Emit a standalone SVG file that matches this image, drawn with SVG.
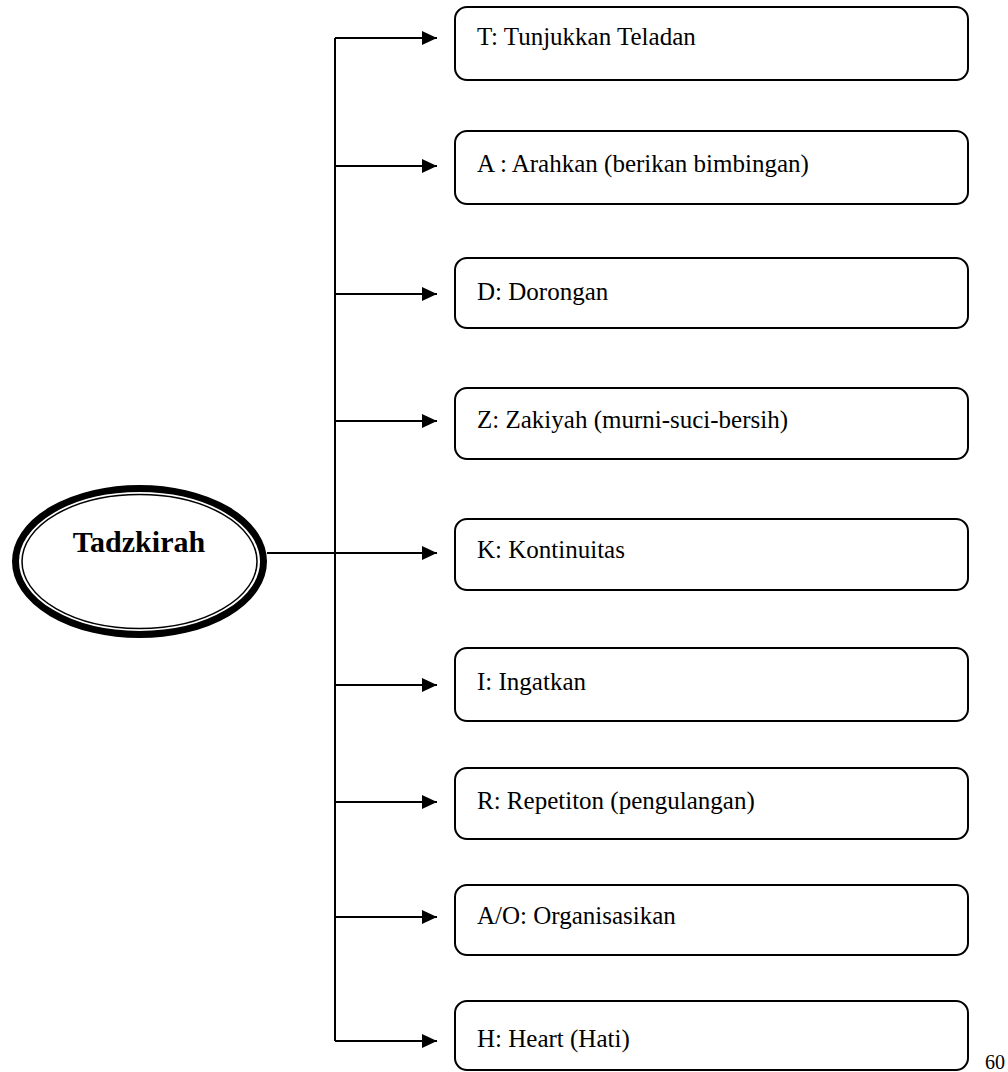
<svg xmlns="http://www.w3.org/2000/svg" width="1008" height="1072" viewBox="0 0 1008 1072">
<defs>
<marker id="ah" markerWidth="16" markerHeight="14" refX="15" refY="7" orient="auto" markerUnits="userSpaceOnUse">
<path d="M0,0 L15,7 L0,14 Z" fill="#000"/>
</marker>
<style>
.box{fill:#fff;stroke:#000;stroke-width:2}
.lbl{font-family:"Liberation Serif","Times New Roman",serif;font-size:25px;fill:#000}
.con{fill:none;stroke:#000;stroke-width:2}
</style>
</defs>
<rect width="1008" height="1072" fill="#fff"/>
<g id="connectors">
<path class="con" d="M335,38 V1041"/>
<path class="con" d="M267,553 H437" marker-end="url(#ah)"/>
<path class="con" d="M335,38 H437" marker-end="url(#ah)"/>
<path class="con" d="M335,166 H437" marker-end="url(#ah)"/>
<path class="con" d="M335,294 H437" marker-end="url(#ah)"/>
<path class="con" d="M335,421 H437" marker-end="url(#ah)"/>
<path class="con" d="M335,685 H437" marker-end="url(#ah)"/>
<path class="con" d="M335,802 H437" marker-end="url(#ah)"/>
<path class="con" d="M335,917 H437" marker-end="url(#ah)"/>
<path class="con" d="M335,1041 H437" marker-end="url(#ah)"/>
</g>
<g id="root">
<ellipse cx="139.5" cy="561.5" rx="124" ry="73" fill="#fff" stroke="#000" stroke-width="7"/>
<ellipse cx="139.5" cy="561.5" rx="117.5" ry="67" fill="none" stroke="#000" stroke-width="1.5"/>
<text x="139" y="552" text-anchor="middle" font-family="Liberation Serif,'Times New Roman',serif" font-weight="bold" font-size="30">Tadzkirah</text>
</g>
<g id="n1"><rect class="box" x="455" y="7" width="513" height="73" rx="12"/><text class="lbl" x="477" y="45">T: Tunjukkan Teladan</text></g>
<g id="n2"><rect class="box" x="455" y="131" width="513" height="73" rx="12"/><text class="lbl" x="477" y="172">A : Arahkan (berikan bimbingan)</text></g>
<g id="n3"><rect class="box" x="455" y="258" width="513" height="70" rx="12"/><text class="lbl" x="477" y="300">D: Dorongan</text></g>
<g id="n4"><rect class="box" x="455" y="388" width="513" height="71" rx="12"/><text class="lbl" x="477" y="428">Z: Zakiyah (murni-suci-bersih)</text></g>
<g id="n5"><rect class="box" x="455" y="519" width="513" height="71" rx="12"/><text class="lbl" x="477" y="558">K: Kontinuitas</text></g>
<g id="n6"><rect class="box" x="455" y="648" width="513" height="73" rx="12"/><text class="lbl" x="477" y="690">I: Ingatkan</text></g>
<g id="n7"><rect class="box" x="455" y="768" width="513" height="71" rx="12"/><text class="lbl" x="477" y="809">R: Repetiton (pengulangan)</text></g>
<g id="n8"><rect class="box" x="455" y="885" width="513" height="70" rx="12"/><text class="lbl" x="477" y="924">A/O: Organisasikan</text></g>
<g id="n9"><rect class="box" x="455" y="1001" width="513" height="69" rx="12"/><text class="lbl" x="477" y="1047">H: Heart (Hati)</text></g>
<text x="985" y="1069" font-family="Liberation Serif,'Times New Roman',serif" font-size="20">60</text>
</svg>
